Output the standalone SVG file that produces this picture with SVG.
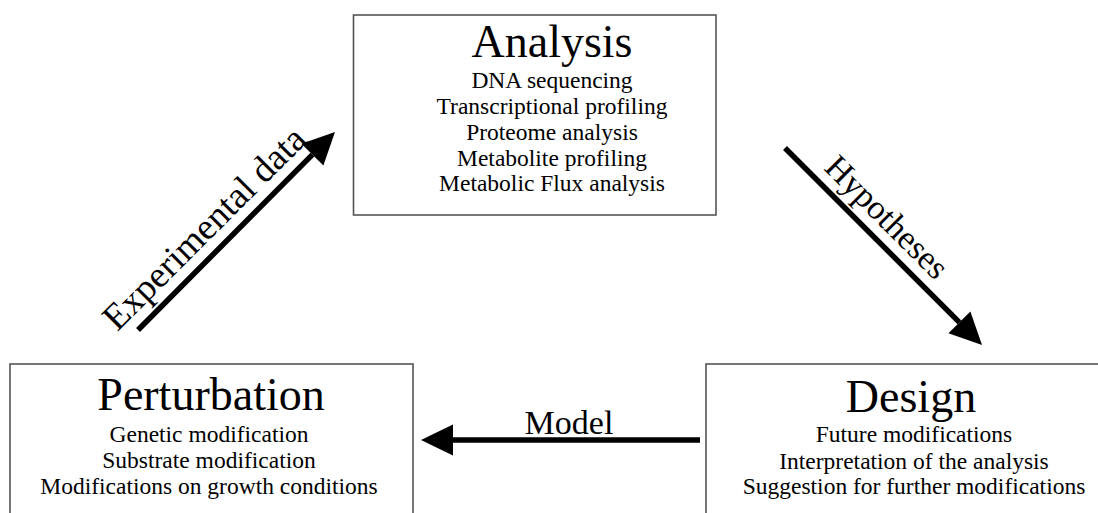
<svg xmlns="http://www.w3.org/2000/svg" width="1098" height="513" viewBox="0 0 1098 513">
<style>
text{font-family:"Liberation Serif","Times New Roman",serif;fill:#000;text-anchor:middle}
.box{fill:#fff;stroke:#555;stroke-width:1.6}
.title{font-size:46px}
.sub{font-size:23.5px}
.lbl{font-size:34px}
.conn{stroke:#000;stroke-width:5.5;fill:none;marker-end:url(#head)}
</style>
<defs>
<marker id="head" markerUnits="userSpaceOnUse" viewBox="0 -16 33 32" refX="0" refY="0" markerWidth="33" markerHeight="32" orient="auto" overflow="visible">
<path d="M0,-15.5 L32,0 L0,15.5 z" fill="#000"/>
</marker>
</defs>
<rect width="1098" height="513" fill="#fff"/>
<g id="analysis">
<rect class="box" x="353.5" y="15" width="362.5" height="200"/>
<text class="title" x="552" y="57">Analysis</text>
<text class="sub" x="552" y="88">DNA sequencing</text>
<text class="sub" x="552" y="114">Transcriptional profiling</text>
<text class="sub" x="552" y="140">Proteome analysis</text>
<text class="sub" x="552" y="166">Metabolite profiling</text>
<text class="sub" x="552" y="191">Metabolic Flux analysis</text>
</g>
<g id="perturbation">
<rect class="box" x="10" y="364" width="403" height="170"/>
<text class="title" x="211" y="410">Perturbation</text>
<text class="sub" x="209" y="442">Genetic modification</text>
<text class="sub" x="209" y="468">Substrate modification</text>
<text class="sub" x="209" y="494">Modifications on growth conditions</text>
</g>
<g id="design">
<rect class="box" x="706" y="364" width="420" height="170"/>
<text class="title" x="911" y="412">Design</text>
<text class="sub" x="914" y="442">Future modifications</text>
<text class="sub" x="914" y="469">Interpretation of the analysis</text>
<text class="sub" x="914" y="494">Suggestion for further modifications</text>
</g>
<g id="connectors">
<line class="conn" x1="138" y1="330" x2="312.4" y2="154.6"/>
<text class="lbl" style="font-size:37px" transform="translate(222,246) rotate(-45)" x="0" y="-13">Experimental data</text>
<line class="conn" x1="785" y1="148" x2="959.4" y2="322.4"/>
<text class="lbl" transform="translate(870.5,233.5) rotate(45)" x="0" y="-12">Hypotheses</text>
<line class="conn" x1="700" y1="440" x2="453" y2="440"/>
<text class="lbl" x="569" y="434">Model</text>
</g>
</svg>
